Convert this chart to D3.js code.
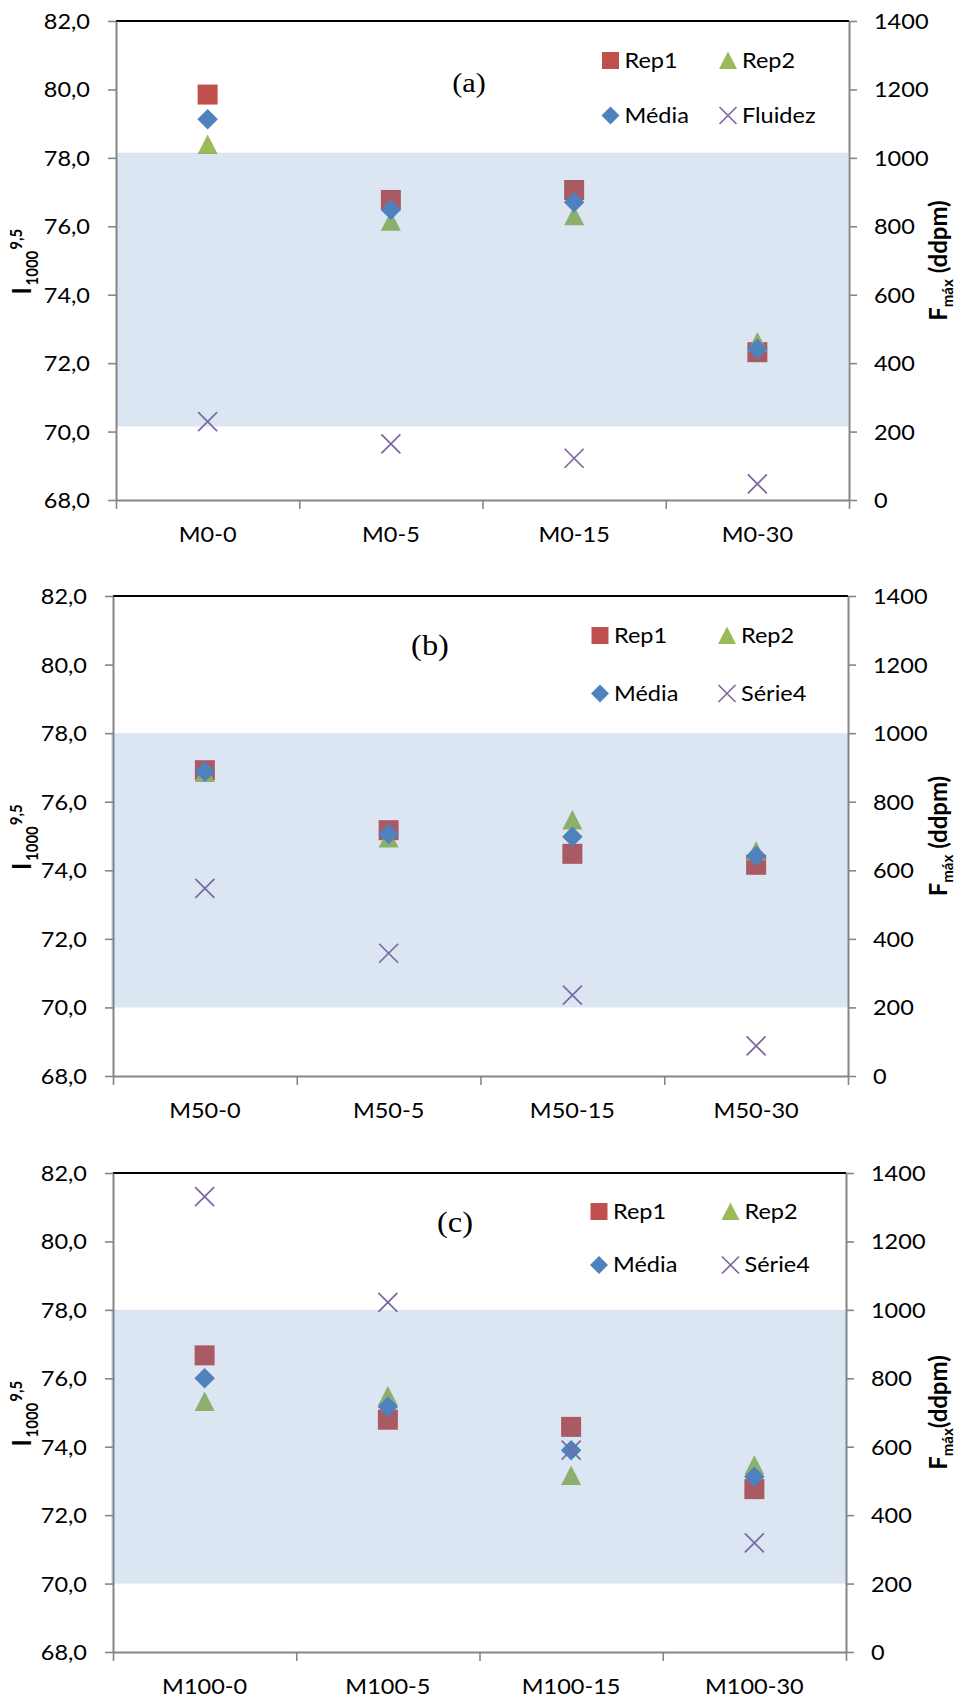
<!DOCTYPE html>
<html><head><meta charset="utf-8">
<script src="https://cdn.jsdelivr.net/npm/d3@7"></script>
<style>body{margin:0;background:#fff} svg{display:block}</style>
</head><body>
<svg id="chart" width="960" height="1702"></svg>
<script>
// ---------- data ----------
const categoriesA = ["M0-0","M0-5","M0-15","M0-30"];
const rep1A   = [79.85, 76.77, 77.06, 72.32];
const rep2A   = [78.39, 76.15, 76.31, 72.62];
const mediaA  = [79.13, 76.48, 76.70, 72.41];
const fluidezA = [229, 164, 122, 47];

const categoriesB = ["M50-0","M50-5","M50-15","M50-30"];
const rep1B   = [76.92, 75.17, 74.48, 74.16];
const rep2B   = [76.85, 74.94, 75.47, 74.56];
const mediaB  = [76.88, 75.06, 74.98, 74.42];
const serie4B = [547, 358, 236, 88];

const categoriesC = ["M100-0","M100-5","M100-15","M100-30"];
const rep1C   = [76.67, 74.79, 74.58, 72.76];
const rep2C   = [75.32, 75.48, 73.16, 73.46];
const mediaC  = [76.00, 75.17, 73.90, 73.12];
const serie4C = [1331, 1022, 590, 319];

const leftTicks  = [68, 70, 72, 74, 76, 78, 80, 82];
const rightTicks = [0, 200, 400, 600, 800, 1000, 1200, 1400];
const seriesNames = ["Rep1", "Rep2", "Média"];
const fourthNames = ["Fluidez", "Série4", "Série4"];
const panelLabels = ["(a)", "(b)", "(c)"];
const bandRanges  = [[70.15, 78.15], [70, 78], [70, 78]];
const rightTitleParts = [["F", "máx", " (ddpm)"], ["F", "máx", " (ddpm)"], ["F", "máx", "(ddpm)"]];
const leftTitleParts = ["I", "1000", "9,5"];

// ---------- style ----------
const COL = {rep1: "#C0504D", rep2: "#9BBB59", media: "#4F81BD", s4: "#8064A2"};
const SX = 1.12;
const FONT = "Lato, 'Open Sans', sans-serif";
const FS = 21;
const AXIS = "#868686";

const sym = {
  square: {draw(c, size){const s=Math.sqrt(size)/2; c.moveTo(-s,-s); c.lineTo(s,-s); c.lineTo(s,s); c.lineTo(-s,s); c.closePath();}},
  diamond: {draw(c, size){const s=Math.sqrt(size)/2; c.moveTo(0,-s); c.lineTo(s,0); c.lineTo(0,s); c.lineTo(-s,0); c.closePath();}},
  triangle: {draw(c, size){const s=Math.sqrt(size)/2; c.moveTo(0,-s); c.lineTo(s,s*0.95); c.lineTo(-s,s*0.95); c.closePath();}},
  cross: {draw(c, size){const s=Math.sqrt(size)/2; c.moveTo(-s,-s); c.lineTo(s,s); c.moveTo(s,-s); c.lineTo(-s,s);}}
};

const panels = [
  {cats: categoriesA, rep1: rep1A, rep2: rep2A, media: mediaA, s4: fluidezA,
   box: {l:116, r:849, t:21, b:500}, bandX: [1, -1], labelPos: [469, 92], labelSize: 27,
   legend: {x1: 610.5, x2: 728, y1: 60.5, y2: 115.5}},
  {cats: categoriesB, rep1: rep1B, rep2: rep2B, media: mediaB, s4: serie4B,
   box: {l:113, r:848, t:596, b:1076}, bandX: [-2, 1], labelPos: [430, 655], labelSize: 29,
   legend: {x1: 600, x2: 727, y1: 635.5, y2: 693.5}},
  {cats: categoriesC, rep1: rep1C, rep2: rep2C, media: mediaC, s4: serie4C,
   box: {l:113, r:846, t:1173, b:1652}, bandX: [-2, 1], labelPos: [455, 1232], labelSize: 29,
   legend: {x1: 599, x2: 730.5, y1: 1211.5, y2: 1265}}
];

const svg = d3.select("#chart");
const fmt = d => d3.format(".1f")(d).replace(".", ",");

panels.forEach((p, pi) => {
  const {l, r, t, b} = p.box;
  const g = svg.append("g");
  const y  = d3.scaleLinear().domain([68, 82]).range([b, t]);
  const y2 = d3.scaleLinear().domain([0, 1400]).range([b, t]);
  const xb = d3.scaleBand().domain(p.cats).range([l, r]);
  const xl = d3.scaleLinear().domain([0, p.cats.length]).range([l, r]);
  const cx = c => xb(c) + xb.bandwidth() / 2;

  // top border
  g.append("line").attr("x1", l).attr("x2", r).attr("y1", t).attr("y2", t)
    .attr("stroke", "#000").attr("stroke-width", 2);

  // axes
  const styleAxis = sel => {
    sel.attr("font-family", FONT).attr("font-size", FS);
    sel.select(".domain").attr("stroke", AXIS).attr("stroke-width", 2);
    sel.selectAll(".tick line").attr("stroke", AXIS).attr("stroke-width", 1.6);
    sel.selectAll(".tick text").attr("fill", "#000");
  };
  g.append("g").attr("transform", `translate(${l},0)`)
    .call(d3.axisLeft(y).tickValues(leftTicks).tickFormat(fmt).tickSize(8).tickSizeOuter(0).tickPadding(18))
    .call(styleAxis).call(s => s.selectAll(".tick text").attr("dy", "0.36em").classed("hs", true));
  g.append("g").attr("transform", `translate(${r},0)`)
    .call(d3.axisRight(y2).tickValues(rightTicks).tickFormat(d3.format("d")).tickSize(8).tickSizeOuter(0).tickPadding(17))
    .call(styleAxis).call(s => s.selectAll(".tick text").attr("dy", "0.36em").classed("hs", true));
  g.append("g").attr("transform", `translate(0,${b})`)
    .call(d3.axisBottom(xl).tickValues(d3.range(0, p.cats.length + 1)).tickFormat("").tickSize(9).tickSizeOuter(0))
    .call(styleAxis);
  g.append("g").attr("transform", `translate(0,${b})`)
    .call(d3.axisBottom(xb).tickSize(0))
    .call(s => { s.select(".domain").remove(); s.attr("font-family", FONT).attr("font-size", FS);
                 s.selectAll(".tick text").attr("y", 42).attr("dy", null).attr("fill", "#000").classed("hs", true); });

  // markers
  const sq = d3.symbol().type(sym.square).size(400);
  const tr = d3.symbol().type(sym.triangle).size(400);
  const di = d3.symbol().type(sym.diamond).size(420);
  const cr = d3.symbol().type(sym.cross).size(361);
  g.selectAll(".r1").data(p.cats).join("path").attr("d", sq)
    .attr("transform", (c, i) => `translate(${cx(c)},${y(p.rep1[i])})`).attr("fill", COL.rep1);
  g.selectAll(".r2").data(p.cats).join("path").attr("d", tr)
    .attr("transform", (c, i) => `translate(${cx(c)},${y(p.rep2[i])})`).attr("fill", COL.rep2);
  g.selectAll(".md").data(p.cats).join("path").attr("d", di)
    .attr("transform", (c, i) => `translate(${cx(c)},${y(p.media[i])})`).attr("fill", COL.media);
  g.selectAll(".s4").data(p.cats).join("path").attr("d", cr)
    .attr("transform", (c, i) => `translate(${cx(c)},${y2(p.s4[i])})`)
    .attr("fill", "none").attr("stroke", COL.s4).attr("stroke-width", 1.7);

  // legend
  const L = p.legend;
  const legItems = [
    {x: L.x1, y: L.y1, name: seriesNames[0], s: d3.symbol().type(sym.square).size(289), fill: COL.rep1},
    {x: L.x2, y: L.y1, name: seriesNames[1], s: d3.symbol().type(sym.triangle).size(324), fill: COL.rep2},
    {x: L.x1, y: L.y2, name: seriesNames[2], s: d3.symbol().type(sym.diamond).size(324), fill: COL.media},
    {x: L.x2, y: L.y2, name: fourthNames[pi], s: d3.symbol().type(sym.cross).size(289), stroke: COL.s4}
  ];
  legItems.forEach(it => {
    g.append("path").attr("d", it.s).attr("transform", `translate(${it.x},${it.y})`)
      .attr("fill", it.fill || "none").attr("stroke", it.stroke || "none").attr("stroke-width", 1.6);
    g.append("text").attr("class", "hs").attr("x", it.x + 14).attr("y", it.y + 7.5)
      .attr("font-family", FONT).attr("font-size", FS).attr("fill", "#000").text(it.name);
  });

  // panel label
  g.append("text").attr("class", "hs").attr("x", p.labelPos[0]).attr("y", p.labelPos[1])
    .attr("text-anchor", "middle").attr("font-family", "'Liberation Serif', 'Times New Roman', serif")
    .attr("font-size", p.labelSize).attr("fill", "#000").text(panelLabels[pi]);

  // axis titles (rotated, centred by measured length)
  const cy = (t + b) / 2;
  const lt = g.append("text").attr("font-family", FONT).attr("font-weight", "bold").attr("fill", "#000");
  lt.append("tspan").attr("font-size", 23).text(leftTitleParts[0]);
  lt.append("tspan").attr("font-size", 15).attr("dy", 6).attr("dx", 2).text(leftTitleParts[1]);
  lt.append("tspan").attr("font-size", 15).attr("dy", -14).attr("dx", 1).text(leftTitleParts[2]);
  const ll = lt.node().getComputedTextLength() + 3;
  lt.attr("x", -ll / 2).attr("transform", `translate(31,${cy + 1}) scale(${SX},1) rotate(-90)`);

  const rt = g.append("text").attr("font-family", FONT).attr("font-weight", "bold").attr("fill", "#000");
  const rp = rightTitleParts[pi];
  rt.append("tspan").attr("font-size", 24).text(rp[0]);
  rt.append("tspan").attr("font-size", 15).attr("dy", 6).text(rp[1]);
  rt.append("tspan").attr("font-size", 24).attr("dy", -6).text(rp[2]);
  const rl = rt.node().getComputedTextLength();
  rt.attr("x", -rl / 2).attr("transform", `translate(947,${cy}) scale(1.05,1) rotate(-90)`);

  // translucent range band (drawn over marks, as in the original)
  g.append("rect").attr("x", l + p.bandX[0]).attr("width", (r + p.bandX[1]) - (l + p.bandX[0]))
    .attr("y", y(bandRanges[pi][1])).attr("height", y(bandRanges[pi][0]) - y(bandRanges[pi][1]))
    .attr("fill", "#4F81BD").attr("fill-opacity", 0.2);
});

// horizontal stretch of text (original glyphs are wider)
svg.selectAll("text.hs").each(function() {
  const x = +(this.getAttribute("x") || 0);
  this.setAttribute("x", x / SX);
  this.setAttribute("transform", `scale(${SX},1)`);
});
</script>
</body></html>
